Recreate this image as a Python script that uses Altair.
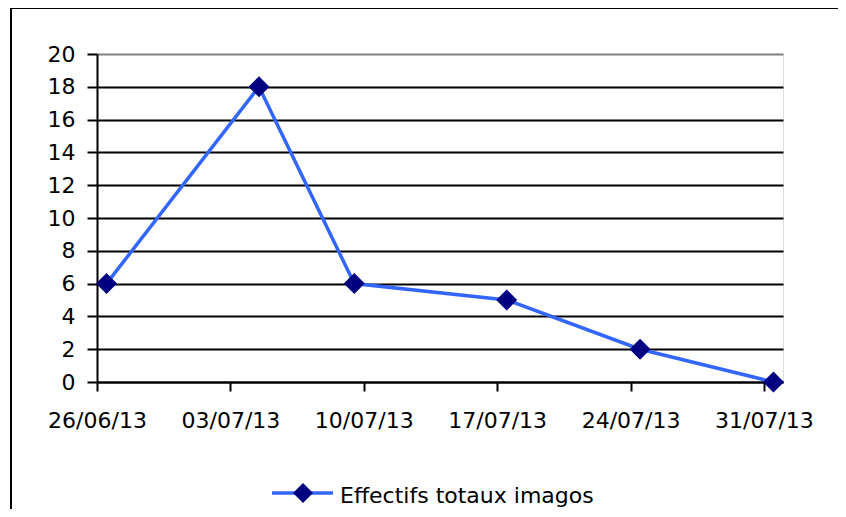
import altair as alt
import pandas as pd

# Data
dates = ["2013-06-26T12:00:00", "2013-07-04T12:00:00", "2013-07-09T12:00:00",
         "2013-07-17T12:00:00", "2013-07-24T12:00:00", "2013-07-31T12:00:00"]
values = [6, 18, 6, 5, 2, 0]
series_name = "Effectifs totaux imagos"
tick_dates = [(6, 26), (7, 3), (7, 10), (7, 17), (7, 24), (7, 31)]
y_ticks = [0, 2, 4, 6, 8, 10, 12, 14, 16, 18, 20]

df = pd.DataFrame({"date": dates, "value": values, "series": series_name})
df_leg = pd.DataFrame({"label": [series_name]})

FONT = "DejaVu Sans"
FS = 22
LINE_COLOR = "#3366FF"
MARK_COLOR = "#000080"

x_enc = alt.X(
    "date:T",
    scale=alt.Scale(domain=[alt.DateTime(year=2013, month=6, date=26),
                            alt.DateTime(year=2013, month=8, date=1)]),
    axis=alt.Axis(
        values=[alt.DateTime(year=2013, month=m, date=d) for m, d in tick_dates],
        format="%d/%m/%y", title=None, grid=False,
        domainColor="black", domainWidth=2,
        tickColor="black", tickSize=9, tickWidth=2,
        labelFont=FONT, labelFontSize=FS, labelColor="black",
        labelPadding=19, labelBaseline="top", labelFlush=False,
        labelOverlap=False,
    ),
)
y_enc = alt.Y(
    "value:Q",
    scale=alt.Scale(domain=[0, 20], nice=False),
    axis=alt.Axis(
        values=y_ticks, title=None, grid=True,
        gridColor={"condition": {"test": "datum.value === 20", "value": "#808080"},
                   "value": "black"},
        gridWidth=2,
        domainColor="black", domainWidth=2,
        tickColor="black", tickSize=10, tickWidth=2,
        labelFont=FONT, labelFontSize=FS, labelColor="black",
        labelPadding=12, labelOverlap=False,
    ),
)

base = alt.Chart(df).encode(x=x_enc, y=y_enc)
line = base.mark_line(color=LINE_COLOR, strokeWidth=3.5)
points = base.mark_point(shape="diamond", filled=True, size=441,
                         color=MARK_COLOR, opacity=1)

leg_line = alt.Chart(df_leg).mark_rule(color=LINE_COLOR, strokeWidth=3.5).encode(
    x=alt.value(175), x2=alt.value(236), y=alt.value(439))
leg_point = alt.Chart(df_leg).mark_point(shape="diamond", filled=True, size=400,
                                         color=MARK_COLOR, opacity=1).encode(
    x=alt.value(206), y=alt.value(439))
leg_text = alt.Chart(df_leg).mark_text(align="left", baseline="middle", font=FONT,
                                       fontSize=FS, color="black").encode(
    x=alt.value(243), y=alt.value(442), text="label:N")

border = alt.Chart(df_leg).mark_rect(filled=False, stroke="black", strokeWidth=2).encode(
    x=alt.value(-86), x2=alt.value(820), y=alt.value(-46), y2=alt.value(520))

chart = alt.layer(line, points, leg_line, leg_point, leg_text, border).properties(
    width=686, height=328,
    autosize=alt.AutoSizeParams(type="none"),
    padding={"left": 89, "top": 46, "right": 55, "bottom": 127},
).configure_view(stroke="#808080", strokeWidth=1.5).configure(background="white")

chart.save("out.html", embed_options={"renderer": "svg", "actions": False})
